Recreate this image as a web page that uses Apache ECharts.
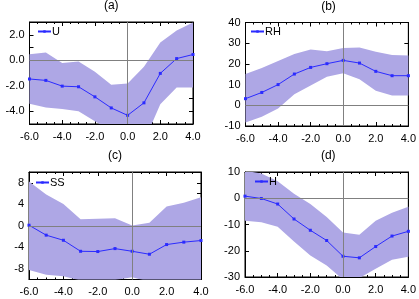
<!DOCTYPE html>
<html><head><meta charset="utf-8">
<script src="https://cdn.jsdelivr.net/npm/echarts@6/dist/echarts.min.js"></script>
<style>html,body{margin:0;padding:0;background:#fff}#c{width:419px;height:299px}</style>
</head><body><div id="c"></div>
<script>
const xVals = [-6, -5, -4, -3, -2, -1, 0, 1, 2, 3, 4];
const xTicks = [-6, -4, -2, 0, 2, 4];

const uMean  = [-1.47, -1.58, -2.03, -2.08, -2.87, -3.74, -4.32, -3.34, -1.03, 0.13, 0.45];
const uUpper = [0.47, 0.6, -0.21, -0.1, -0.9, -1.92, -1.82, -0.5, 1.39, 2.34, 2.97];
const uLower = [-3.42, -3.71, -3.82, -4.0, -4.79, -5.5, -6.5, -6.4, -3.45, -2.13, -2.13];

const rhMean  = [3.2, 6.2, 10.0, 15.1, 18.3, 20.1, 21.7, 20.4, 16.4, 14.3, 14.3];
const rhUpper = [15.1, 18.0, 21.4, 24.8, 27.0, 26.1, 27.7, 27.9, 25.9, 24.3, 24.1];
const rhLower = [-8.3, -5.5, -1.6, 5.3, 9.6, 13.8, 15.5, 12.6, 7.0, 4.7, 4.7];

const ssMean  = [0.1, -1.75, -2.7, -4.75, -4.8, -4.25, -4.75, -5.3, -3.5, -3.05, -2.75];
const ssUpper = [8.25, 5.8, 4.05, 1.2, 1.3, 1.4, 0.05, 0.55, 3.6, 4.3, 5.3];
const ssLower = [-8.25, -9.1, -9.4, -10.2, -10.4, -10.1, -9.6, -10.4, -10.6, -10.6, -10.6];

const hMean  = [0.8, -0.1, -2.2, -7.9, -12.2, -16.1, -22.1, -22.7, -18.4, -14.4, -12.6];
const hUpper = [10.5, 9.4, 6.5, 1.7, -2.2, -7.1, -13.0, -13.9, -8.6, -5.5, -3.2];
const hLower = [-8.6, -9.1, -10.9, -16.5, -21.8, -25.6, -31.0, -30.4, -26.9, -23.4, -22.3];

const panels = [
  {title: '(a)', name: 'U',  mean: uMean,  upper: uUpper, lower: uLower, min: -5,  max: 3,  interval: 1, labelEvery: 2, fmt: v => v.toFixed(1),
   grid: {left: 29.5, top: 22, width: 163.5, height: 102}, legend: {left: 37, top: 26}},
  {title: '(b)', name: 'RH', mean: rhMean, upper: rhUpper, lower: rhLower, min: -10, max: 40, interval: 10, labelEvery: 10, fmt: v => String(v),
   grid: {left: 245.5, top: 22.5, width: 166, height: 103.5}, legend: {left: 250, top: 26}},
  {title: '(c)', name: 'SS', mean: ssMean, upper: ssUpper, lower: ssLower, min: -10, max: 10, interval: 2, labelEvery: 4, fmt: v => String(v),
   grid: {left: 29, top: 172, width: 172, height: 107.5}, legend: {left: 35, top: 177}},
  {title: '(d)', name: 'H',  mean: hMean,  upper: hUpper, lower: hLower, min: -30, max: 10, interval: 10, labelEvery: 10, fmt: v => String(v),
   grid: {left: 245, top: 172, width: 166.5, height: 105}, legend: {left: 254, top: 176}}
];

const FONT = 'Liberation Sans';
const LINE = '#2b2bff';
const BAND = '#aea7e5';
const option = {animation: false, title: [], grid: [], xAxis: [], yAxis: [], series: [], legend: []};

panels.forEach((p, i) => {
  option.grid.push(Object.assign({show: true, borderColor: '#000', borderWidth: 1, backgroundColor: 'transparent'}, p.grid));
  option.title.push({text: p.title, left: p.grid.left + p.grid.width / 2, top: p.grid.top - 22, textAlign: 'center', padding: 0,
    textStyle: {fontFamily: FONT, fontSize: 12, fontWeight: 'normal', color: '#000'}});
  const axLine = {show: true, onZero: false, lineStyle: {color: '#000', width: 1}};
  const tick = {show: true, inside: true, length: 4, lineStyle: {color: '#000'}};
  const minor = {show: true, splitNumber: 4, length: 2, lineStyle: {color: '#000'}};
  option.xAxis.push({type: 'value', gridIndex: i, position: 'bottom', min: -6, max: 4, interval: 2,
    axisLine: axLine, axisTick: tick, minorTick: minor, splitLine: {show: false},
    axisLabel: {fontFamily: FONT, fontSize: 11, color: '#000', margin: 7, formatter: v => xTicks.includes(v) ? v.toFixed(1) : ''}});
  option.xAxis.push({type: 'value', gridIndex: i, position: 'top', min: -6, max: 4, interval: 2,
    axisLine: axLine, axisTick: tick, minorTick: minor, splitLine: {show: false}, axisLabel: {show: false}});
  option.yAxis.push({type: 'value', gridIndex: i, position: 'left', min: p.min, max: p.max, interval: p.interval,
    axisLine: axLine, axisTick: tick, splitLine: {show: false},
    axisLabel: {fontFamily: FONT, fontSize: 11, color: '#000', margin: 5,
      formatter: v => (Math.abs(Math.round(v) % p.labelEvery) === 0) ? p.fmt(v) : ''}});
  option.yAxis.push({type: 'value', gridIndex: i, position: 'right', min: p.min, max: p.max, interval: p.interval,
    axisLine: axLine, axisTick: tick, splitLine: {show: false}, axisLabel: {show: false}});
  const xi = i * 2, yi = i * 2;
  const bandData = xVals.map((x, k) => [x, p.lower[k], p.upper[k]]);
  option.series.push({type: 'custom', name: 'band' + i, xAxisIndex: xi, yAxisIndex: yi, clip: true, silent: true, z: 1,
    data: bandData, encode: {x: 0, y: [1, 2]},
    renderItem: (params, api) => {
      if (params.dataIndex !== 0) return;
      const pts = [];
      bandData.forEach(d => pts.push(api.coord([d[0], d[2]])));
      for (let k = bandData.length - 1; k >= 0; k--) pts.push(api.coord([bandData[k][0], bandData[k][1]]));
      return {type: 'polygon', shape: {points: pts}, style: {fill: BAND, stroke: null}};
    }});
  option.series.push({type: 'line', name: p.name, xAxisIndex: xi, yAxisIndex: yi,
    data: xVals.map((x, k) => [x, p.mean[k]]), symbol: 'rect', symbolSize: 3, showSymbol: true,
    itemStyle: {color: LINE}, lineStyle: {color: LINE, width: 1}, z: 3,
    markLine: {silent: true, symbol: 'none', label: {show: false}, lineStyle: {color: '#808080', width: 1, type: 'solid'},
      data: [{xAxis: 0}, {yAxis: 0}]}});
  option.legend.push({data: [p.name], left: p.legend.left, top: p.legend.top, padding: 0, itemWidth: 13, itemHeight: 3,
    textStyle: {fontFamily: FONT, fontSize: 11, color: '#000', padding: [0, 0, 0, -4]}});
});

const chart = echarts.init(document.getElementById('c'), null, {renderer: 'canvas'});
chart.setOption(option);
</script>
</body></html>
